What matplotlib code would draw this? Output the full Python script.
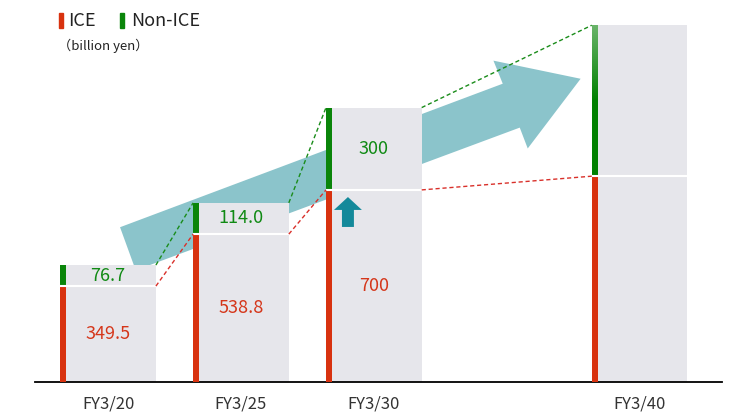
import numpy as np
import matplotlib.pyplot as plt
from matplotlib.patches import Polygon, Rectangle, FancyArrow
from matplotlib.colors import LinearSegmentedColormap

plt.rcParams['font.family'] = ['Noto Sans CJK JP', 'DejaVu Sans']

# data (billion yen)
years = ["FY3/20", "FY3/25", "FY3/30", "FY3/40"]
xpos = [0, 1, 2, 4]
ice = [349.5, 538.8, 700, 750]
non_ice = [76.7, 114.0, 300, 550]
ice_labels = ["349.5", "538.8", "700", ""]
non_ice_labels = ["76.7", "114.0", "300", ""]

gray = "#e6e6eb"
red = "#d8320f"
green = "#0a850a"
red_txt = "#d5361a"
green_txt = "#108a14"
teal = "#8bc4cb"

fig = plt.figure(figsize=(7.5, 4.2), dpi=100)
ax = fig.add_axes([35/750, 38/420, 687/750, 382/420])

width = 0.72
strip = 0.045
x = np.array(xpos, dtype=float)
ice_a = np.array(ice)
tot = ice_a + np.array(non_ice)
left = x - width/2
right = x + width/2

# big background arrow
arrow_pts = [(0.09, 564), (2.97, 1087), (2.90, 1171), (3.556, 1105),
             (3.158, 851), (3.098, 927), (0.208, 407)]
ax.add_patch(Polygon(arrow_pts, closed=True, color=teal, lw=0, zorder=1))

# gray bars
ax.bar(x, ice, width, color=gray, zorder=2)
ax.bar(x, non_ice, width, bottom=ice, color=gray, zorder=2)

# colored strips on the left
ax.bar(left, ice, strip, align="edge", color=red, zorder=3)
ax.bar(left[:3], non_ice[:3], strip, bottom=ice[:3], align="edge", color=green, zorder=3)

# gradient strip for FY3/40
cmap = LinearSegmentedColormap.from_list("g", ["#008000", "#008000", "#6ab46a"])
grad = np.linspace(0, 1, 256).reshape(-1, 1)
ax.imshow(grad, cmap=cmap, origin="lower", aspect="auto", zorder=3,
          extent=[left[3], left[3] + strip, ice[3], tot[3]])

# white separators
ax.hlines(ice, left, right, color="white", lw=1.5, zorder=4)

# dashed connectors
for i in range(3):
    ax.plot([right[i], left[i+1]], [tot[i], tot[i+1]], color="#1a8c1a",
            lw=1, ls=(0, (3, 2)), zorder=5)
    ax.plot([right[i], left[i+1]], [ice[i], ice[i+1]], color="#d9302a",
            lw=1, ls=(0, (3, 2)), zorder=5)

# value labels
for i in range(4):
    if ice_labels[i]:
        ax.text(x[i], ice[i]/2, ice_labels[i], ha="center", va="center",
                fontsize=13, color=red_txt, zorder=6)
    if non_ice_labels[i]:
        ax.text(x[i], ice[i] + non_ice[i]/2, non_ice_labels[i], ha="center",
                va="center", fontsize=13, color=green_txt, zorder=6)

# small up arrow
ax.add_patch(FancyArrow(1.805, 565, 0, 109, width=0.09, head_width=0.21,
                        head_length=47, length_includes_head=True,
                        color="#14899a", lw=0, zorder=6))

ax.set_xlim(-0.55, 4.62)
ax.set_ylim(0, 1392)
ax.set_xticks(xpos, years)
ax.tick_params(axis="x", length=0, pad=10, labelsize=12, labelcolor="#333333")
ax.set_yticks([])
for s in ["top", "left", "right"]:
    ax.spines[s].set_visible(False)
ax.spines["bottom"].set_linewidth(1.3)
ax.patch.set_alpha(0)

# legend
fig.patches.append(Rectangle((59/750, 1 - 28/420), 3.5/750, 15/420,
                             transform=fig.transFigure, color=red))
fig.patches.append(Rectangle((120/750, 1 - 28/420), 3.5/750, 15/420,
                             transform=fig.transFigure, color=green))
fig.text(68/750, 1 - 20.5/420, "ICE", fontsize=13, va="center", color="#222222")
fig.text(131/750, 1 - 20.5/420, "Non-ICE", fontsize=13, va="center", color="#222222")
fig.text(58/750, 1 - 46/420, "（billion yen）", fontsize=9.5, va="center", color="#222222")

plt.savefig("out.png", dpi=100)
